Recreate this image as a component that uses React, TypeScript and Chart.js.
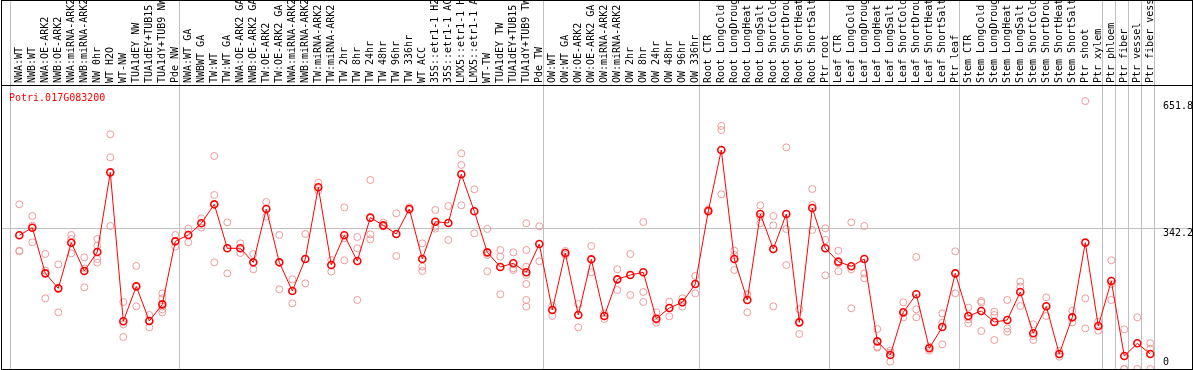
import React, { useEffect, useRef } from 'react';
import { Chart, registerables } from 'chart.js';

Chart.register(...registerables);

const GENE_ID = 'Potri.017G083200';

const LABELS = [
  'NWA:WT', 'NWB:WT', 'NWA:OE-ARK2', 'NWB:OE-ARK2', 'NWA:miRNA-ARK2', 'NWB:miRNA-ARK2',
  'NW 0hr', 'WT H2O', 'WT-NW', 'TUA1dEY NW', 'TUA1dEY+TUB15', 'TUA1dY+TUB9 NW', 'Pde NW',
  'NWA:WT GA', 'NWBWT GA', 'TW:WT', 'TW:WT GA', 'NWA:OE-ARK2 GA', 'NWB:OE-ARK2 GA',
  'TW:OE-ARK2', 'TW:OE-ARK2 GA', 'NWA:miRNA-ARK2', 'NWB:miRNA-ARK2', 'TW:miRNA-ARK2',
  'TW:miRNA-ARK2', 'TW 2hr', 'TW 8hr', 'TW 24hr', 'TW 48hr', 'TW 96hr', 'TW 336hr',
  'WT ACC', '35S::etr1-1 H2', '35S::etr1-1 AC', 'LMX5::etr1-1 H', 'LMX5::etr1-1 A',
  'WT-TW', 'TUA1dEY TW', 'TUA1dEY+TUB15', 'TUA1dY+TUB9 TW', 'Pde TW',
  'OW:WT', 'OW:WT GA', 'OW:OE-ARK2', 'OW:OE-ARK2 GA', 'OW:miRNA-ARK2', 'OW:miRNA-ARK2',
  'OW 2hr', 'OW 8hr', 'OW 24hr', 'OW 48hr', 'OW 96hr', 'OW 336hr',
  'Root CTR', 'Root LongCold', 'Root LongDroug', 'Root LongHeat', 'Root LongSalt',
  'Root ShortCold', 'Root ShortDrou', 'Root ShortHeat', 'Root ShortSalt', 'Ptr root',
  'Leaf CTR', 'Leaf LongCold', 'Leaf LongDroug', 'Leaf LongHeat', 'Leaf LongSalt',
  'Leaf ShortCold', 'Leaf ShortDrou', 'Leaf ShortHeat', 'Leaf ShortSalt', 'Ptr leaf',
  'Stem CTR', 'Stem LongCold', 'Stem LongDroug', 'Stem LongHeat', 'Stem LongSalt',
  'Stem ShortCold', 'Stem ShortDrou', 'Stem ShortHeat', 'Stem ShortSalt', 'Ptr shoot',
  'Ptr xylem', 'Ptr phloem', 'Ptr fiber', 'Ptr vessel', 'Ptr fiber vess',
];

const MEAN_VALUES = [
  325.2, 343.8, 232.7, 196.2, 307.3, 238.4, 284.6, 478.4, 116.0, 201.1, 116.8, 157.3, 310.6,
  326.0, 354.4, 400.6, 293.6, 293.6, 259.5, 389.2, 259.5, 189.8, 267.6, 442.0, 253.0, 325.2,
  262.7, 368.2, 349.5, 328.4, 389.2, 267.6, 358.4, 355.2, 473.6, 383.6, 283.8, 248.2, 257.1,
  235.2, 304.1,
  143.5, 282.2, 131.4, 266.8, 128.9, 218.1, 228.7, 235.2, 122.4, 148.4, 162.2, 206.8,
  384.4, 532.8, 267.6, 167.9, 377.1, 291.9, 377.1, 113.5, 391.7, 293.6,
  261.1, 249.8, 267.6, 67.3, 34.1, 137.9, 181.7, 50.3, 102.2, 232.7,
  128.9, 141.1, 114.4, 119.2, 187.3, 86.8, 152.5, 36.5, 125.7, 307.5,
  104.6, 214.1, 31.6, 62.5, 36.5,
];

const REPLICATES = [
  [400.6, 287.9, 286.3], [372.2, 348.7, 308.2], [279.8, 239.2, 171.9], [254.6, 137.9],
  [326.0, 316.3, 281.4], [271.7, 244.9, 198.7], [316.3, 300.0, 267.6, 258.7],
  [570.9, 514.9, 347.9], [163.0, 108.7, 77.9], [250.6, 152.5], [131.4, 117.6, 101.4],
  [184.0, 172.0, 152.0, 145.2, 137.9], [326.0, 297.6],
  [341.4, 308.2], [366.5, 343.8], [518.2, 423.3, 259.5], [356.8, 232.7], [305.7, 282.2],
  [279.8, 242.5], [406.3, 370.6], [326.0, 193.8], [218.1, 159.8], [328.4, 208.4],
  [453.3, 433.8], [265.2, 236.8], [393.3, 317.9, 264.4], [321.1, 293.6, 167.9],
  [459.8, 327.6, 315.5], [356.0, 346.3], [378.7, 274.9], [393.3, 386.8],
  [305.7, 249.0, 238.4], [386.8, 346.3, 341.4], [396.5, 313.8], [524.7, 496.3, 398.2],
  [437.1, 330.1], [340.6, 277.3, 237.6], [289.5, 273.3, 181.7], [283.8, 244.9, 240.8],
  [354.4, 289.5, 249.0, 228.7, 206.8, 167.9, 151.7], [347.1, 261.9],
  [153.3, 128.9], [287.1, 277.3], [158.1, 101.4], [299.2, 235.2], [135.4, 121.6],
  [242.5, 192.2], [279.8, 180.0], [357.6, 187.3, 163.0], [137.9, 119.2, 112.7],
  [163.8, 128.1], [171.9, 151.7], [226.3, 184.0],
  [388.4, 381.9], [591.2, 581.4, 424.9], [287.9, 277.3, 240.8], [182.5, 180.0, 137.9],
  [398.2, 370.6, 354.4], [372.2, 349.5, 152.5], [539.3, 340.6, 253.0], [145.2, 85.1],
  [437.9, 399.0, 338.2], [342.2, 313.8, 227.9],
  [287.9, 257.1, 237.6], [356.8, 242.5, 147.6], [347.9, 232.7, 220.6], [97.3, 54.3, 51.9],
  [44.6, 39.7, 17.8], [162.2, 135.4, 125.7], [272.5, 145.2, 125.7], [54.3, 44.6],
  [135.4, 112.7, 60.0], [286.3, 184.0],
  [149.2, 120.8, 111.1], [165.4, 161.4, 92.4], [139.5, 131.4, 70.6], [167.9, 98.9, 90.8],
  [212.5, 200.3, 153.3], [108.7, 80.3, 70.6], [174.3, 128.9], [43.8, 30.0], [141.9, 113.5],
  [651.8, 171.9, 98.9],
  [115.2, 93.3], [264.4, 206.8, 167.9], [96.5, 0, 0], [125.7, 0], [62.5, 49.5, 0],
];

// index of the first category of each group (last entry closes the final group)
const GROUP_STARTS = [0, 13, 41, 53, 63, 73, 84, 85, 86, 87, 88];
const Y_TICKS = [0, 342.2, 651.8];
const Y_MAX = 690.9;
const X_MIN = -1.4077;
const X_MAX = 90.208;
const SEP_SHIFT = 0.64;

const FONT = 'DejaVu Sans Mono';

export default function App() {
  const ref = useRef<HTMLCanvasElement>(null);

  useEffect(() => {
    document.body.style.margin = '0';
    const canvas = ref.current;
    if (!canvas) return;

    const sepValues = GROUP_STARTS.map((g) => g - SEP_SHIFT);
    const isSep = (v: number | undefined) =>
      v !== undefined && sepValues.some((s) => Math.abs(s - v) < 1e-6);

    const replicatePoints: { x: number; y: number }[] = [];
    REPLICATES.forEach((reps, i) => reps.forEach((v) => replicatePoints.push({ x: i, y: v })));
    const meanPoints = MEAN_VALUES.map((v, i) => ({ x: i, y: v }));

    const framePlugin = {
      id: 'frame',
      afterDraw(chart: any) {
        const { ctx, chartArea } = chart;
        ctx.save();
        ctx.strokeStyle = '#000';
        ctx.lineWidth = 1;
        ctx.beginPath();
        ctx.moveTo(chartArea.left + 0.5, 0.5);
        ctx.lineTo(chartArea.right + 0.5, 0.5);
        ctx.moveTo(chartArea.left + 0.5, 0);
        ctx.lineTo(chartArea.left + 0.5, chartArea.bottom + 1);
        ctx.moveTo(chartArea.right + 0.5, 0);
        ctx.lineTo(chartArea.right + 0.5, chartArea.bottom + 1);
        ctx.moveTo(chartArea.left, chartArea.bottom + 0.5);
        ctx.lineTo(chartArea.right + 1, chartArea.bottom + 0.5);
        ctx.stroke();
        ctx.fillStyle = '#ff0000';
        ctx.font = `10px ${FONT}`;
        ctx.textBaseline = 'alphabetic';
        ctx.textAlign = 'left';
        ctx.fillText(GENE_ID, chartArea.left + 8, chartArea.top + 16);
        ctx.restore();
      },
    };

    const chart = new Chart(canvas, {
      type: 'scatter',
      data: {
        datasets: [
          {
            label: 'mean',
            data: meanPoints,
            showLine: true,
            borderColor: '#ff0000',
            borderWidth: 1,
            pointRadius: 3.5,
            pointBorderWidth: 1.6,
            pointBorderColor: '#ff0000',
            pointBackgroundColor: 'rgba(0,0,0,0)',
            tension: 0,
            order: 1,
          },
          {
            label: 'replicates',
            data: replicatePoints,
            showLine: false,
            pointRadius: 3.5,
            pointBorderWidth: 1,
            pointBorderColor: '#ee9a9a',
            pointBackgroundColor: 'rgba(0,0,0,0)',
            order: 2,
          },
        ],
      },
      options: {
        responsive: false,
        animation: false,
        layout: { autoPadding: false, padding: { left: 1, right: 2, top: 0, bottom: 1 } },
        plugins: { legend: { display: false }, tooltip: { enabled: false } },
        scales: {
          x: {
            type: 'linear',
            position: 'top',
            min: X_MIN,
            max: X_MAX,
            bounds: 'data',
            afterBuildTicks: (scale: any) => {
              const vals = [...LABELS.map((_, i) => i), ...sepValues].sort((a, b) => a - b);
              scale.ticks = vals.map((value) => ({ value }));
            },
            afterFit: (scale: any) => {
              scale.height = 85;
              scale.paddingLeft = 0;
              scale.paddingRight = 0;
              scale.paddingTop = 0;
              scale.paddingBottom = 0;
            },
            grid: {
              color: (c: any) => (isSep(c.tick && c.tick.value) ? '#c0c0c0' : 'rgba(0,0,0,0)'),
              tickColor: (c: any) => (isSep(c.tick && c.tick.value) ? '#c0c0c0' : 'rgba(0,0,0,0)'),
              tickLength: 85,
              drawTicks: true,
              lineWidth: 1,
            },
            border: { display: true, color: '#000', width: 1 },
            ticks: {
              autoSkip: false,
              minRotation: 90,
              maxRotation: 90,
              padding: -83,
              labelOffset: 12,
              color: '#000',
              font: { family: FONT, size: 10 },
              callback: (v: any) => (Number.isInteger(v) ? LABELS[v] : ''),
            },
          },
          y: {
            type: 'linear',
            position: 'right',
            min: 0,
            max: Y_MAX,
            afterBuildTicks: (scale: any) => {
              scale.ticks = Y_TICKS.map((value) => ({ value }));
            },
            afterFit: (scale: any) => {
              scale.width = 0;
              scale.paddingLeft = 0;
              scale.paddingRight = 0;
              scale.paddingTop = 0;
              scale.paddingBottom = 0;
            },
            grid: {
              color: (c: any) => (c.tick && c.tick.value === 342.2 ? '#c0c0c0' : 'rgba(0,0,0,0)'),
              drawTicks: false,
              lineWidth: 1,
            },
            border: { display: false },
            ticks: {
              mirror: true,
              crossAlign: 'far',
              padding: 1,
              color: '#000',
              font: (c: any) => ({
                family: FONT,
                size: 10,
                lineHeight: c.tick && c.tick.value === 0 ? '14px' : '10px',
              }),
              callback: (v: any) => (v === 0 ? ['0', ''] : ['', String(v)]),
            },
          },
        },
      },
      plugins: [framePlugin],
    } as any);

    return () => chart.destroy();
  }, []);

  return (
    <div style={{ width: 1194, height: 370 }}>
      <canvas ref={ref} width={1194} height={370} style={{ display: 'block' }} />
    </div>
  );
}
